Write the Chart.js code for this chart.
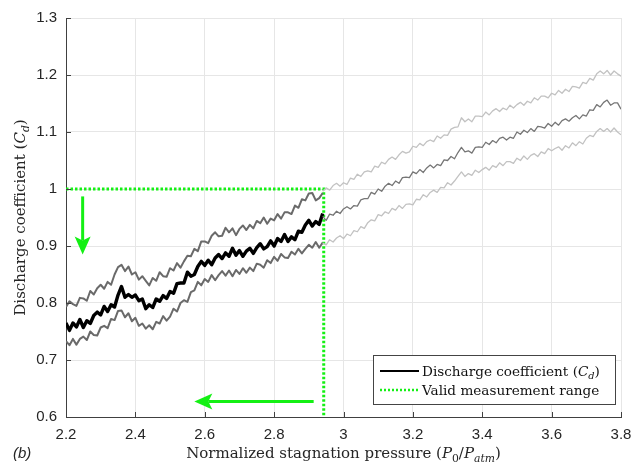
<!DOCTYPE html>
<html><head><meta charset="utf-8">
<script src="https://cdn.jsdelivr.net/npm/chart.js@4.4.0/dist/chart.umd.min.js"></script>
<style>html,body{margin:0;padding:0;background:#fff;overflow:hidden}canvas{display:block}</style>
</head><body>
<canvas id="c" width="642" height="462"></canvas>
<script>
// ---- data ----
const pressureDark = [2.20,2.21,2.22,2.23,2.24,2.25,2.26,2.27,2.28,2.29,
 2.30,2.31,2.32,2.33,2.34,2.35,2.36,2.37,2.38,2.39,
 2.40,2.41,2.42,2.43,2.44,2.45,2.46,2.47,2.48,2.49,
 2.50,2.51,2.52,2.53,2.54,2.55,2.56,2.57,2.58,2.59,
 2.60,2.61,2.62,2.63,2.64,2.65,2.66,2.67,2.68,2.69,
 2.70,2.71,2.72,2.73,2.74,2.75,2.76,2.77,2.78,2.79,
 2.80,2.81,2.82,2.83,2.84,2.85,2.86,2.87,2.88,2.89,
 2.90,2.91,2.92,2.93,2.94];
const cdMeanDark = [.765,.752,.765,.758,.771,.757,.769,.764,.778,.784,
 .779,.794,.785,.797,.793,.814,.829,.810,.815,.810,
 .814,.804,.807,.790,.797,.792,.807,.803,.813,.808,
 .820,.817,.834,.835,.835,.854,.847,.850,.864,.873,
 .866,.875,.867,.879,.885,.878,.888,.882,.896,.884,
 .892,.882,.891,.896,.887,.897,.904,.895,.899,.909,
 .900,.913,.908,.920,.908,.916,.911,.926,.924,.937,
 .945,.935,.943,.938,.957];
const cdUpperDark = [.793,.803,.798,.795,.809,.808,.804,.821,.815,.826,
 .832,.825,.837,.832,.850,.863,.867,.856,.864,.850,
 .854,.841,.847,.839,.831,.844,.839,.854,.847,.846,
 .861,.857,.870,.862,.873,.883,.882,.895,.891,.908,
 .908,.905,.918,.924,.917,.918,.932,.924,.931,.919,
 .930,.936,.928,.937,.931,.944,.940,.950,.939,.948,
 .945,.956,.948,.959,.959,.956,.971,.967,.982,.980,
 .992,.993,.980,.984,.993];
const cdLowerDark = [.733,.726,.737,.727,.737,.741,.735,.750,.744,.743,
 .757,.760,.756,.772,.770,.786,.787,.775,.782,.768,
 .774,.760,.764,.755,.761,.754,.767,.764,.777,.769,
 .776,.790,.785,.800,.805,.802,.819,.822,.837,.831,
 .842,.837,.849,.840,.849,.856,.848,.857,.847,.858,
 .851,.861,.853,.862,.856,.869,.867,.862,.875,.870,
 .881,.874,.886,.880,.879,.890,.885,.895,.887,.895,
 .902,.897,.907,.897,.906];

const pressureLight = [2.94,2.95,2.96,2.97,2.98,2.99,3.00,3.01,3.02,3.03,
 3.04,3.05,3.06,3.07,3.08,3.09,3.10,3.11,3.12,3.13,
 3.14,3.15,3.16,3.17,3.18,3.19,3.20,3.21,3.22,3.23,
 3.24,3.25,3.26,3.27,3.28,3.29,3.30,3.31,3.32,3.33,
 3.34,3.35,3.36,3.37,3.38,3.39,3.40,3.41,3.42,3.43,
 3.44,3.45,3.46,3.47,3.48,3.49,3.50,3.51,3.52,3.53,
 3.54,3.55,3.56,3.57,3.58,3.59,3.60,3.61,3.62,3.63,
 3.64,3.65,3.66,3.67,3.68,3.69,3.70,3.71,3.72,3.73,
 3.74,3.75,3.76,3.77,3.78,3.79,3.80];
const cdMeanLight = [.952,.945,.956,.954,.961,.957,.965,.969,.965,.971,
 .970,.981,.983,.983,.994,.991,1.000,.996,1.005,1.010,
 1.006,1.014,1.010,1.020,1.021,1.020,1.030,1.027,1.034,1.029,
 1.037,1.042,1.037,1.043,1.041,1.051,1.050,1.057,1.053,1.064,
 1.073,1.065,1.067,1.063,1.073,1.074,1.073,1.082,1.078,1.085,
 1.081,1.089,1.091,1.086,1.091,1.089,1.100,1.096,1.103,1.099,
 1.106,1.101,1.110,1.109,1.107,1.115,1.110,1.117,1.112,1.120,
 1.123,1.119,1.125,1.129,1.123,1.130,1.128,1.139,1.138,1.148,
 1.144,1.152,1.156,1.147,1.151,1.151,1.140];
const cdUpperLight = [.996,1.002,.998,1.006,1.010,1.005,1.011,1.008,1.019,1.017,
 1.026,1.022,1.030,1.032,1.030,1.040,1.038,1.047,1.044,1.052,
 1.056,1.052,1.060,1.066,1.063,1.065,1.075,1.073,1.080,1.076,
 1.083,1.086,1.083,1.093,1.089,1.095,1.094,1.105,1.108,1.109,
 1.125,1.118,1.123,1.118,1.128,1.128,1.127,1.135,1.130,1.137,
 1.141,1.136,1.142,1.139,1.147,1.142,1.148,1.152,1.147,1.154,
 1.151,1.160,1.156,1.163,1.163,1.160,1.168,1.165,1.173,1.168,
 1.175,1.171,1.180,1.179,1.177,1.187,1.185,1.194,1.191,1.202,
 1.207,1.202,1.208,1.200,1.207,1.202,1.198];
const cdLowerLight = [.905,.902,.911,.907,.914,.918,.913,.921,.918,.927,
 .925,.934,.931,.941,.946,.944,.955,.953,.960,.957,
 .966,.963,.971,.966,.973,.974,.972,.982,.981,.990,
 .986,.994,.998,.994,1.003,1.002,1.011,1.007,1.014,1.022,
 1.030,1.022,1.027,1.024,1.033,1.029,1.034,1.038,1.033,1.041,
 1.038,1.046,1.041,1.048,1.048,1.045,1.054,1.050,1.058,1.052,
 1.059,1.062,1.057,1.065,1.062,1.071,1.067,1.071,1.074,1.068,
 1.076,1.072,1.081,1.076,1.083,1.079,1.089,1.094,1.092,1.101,
 1.106,1.101,1.106,1.100,1.107,1.100,1.095];

const validRangeX = [2.2, 2.943, 2.943];
const validRangeY = [1.0, 1.0, 0.6];
const arrowDown = {x:[2.248,2.248], y:[0.987,0.885]};
const arrowLeft = {x:[2.914,2.570], y:[0.627,0.627]};
const xTickValues = [2.2,2.4,2.6,2.8,3.0,3.2,3.4,3.6,3.8];
const yTickValues = [0.6,0.7,0.8,0.9,1.0,1.1,1.2,1.3];

// ---- helpers ----
const pts = (xs, ys) => xs.map((x, i) => ({x, y: ys[i]}));
const GREEN = '#14f014';
const SERIF = '"DejaVu Serif", serif';

function drawRich(ctx, parts, x, y, size, align) {
  const fontFor = s => {
    const it = s.includes('i') ? 'italic ' : '';
    const sz = s.includes('s') ? size * 0.72 : size;
    return it + sz + 'px ' + SERIF;
  };
  let w = 0;
  parts.forEach(p => { ctx.font = fontFor(p[1]); w += ctx.measureText(p[0]).width; });
  let cx = align === 'center' ? x - w / 2 : x;
  ctx.textAlign = 'left';
  ctx.textBaseline = 'alphabetic';
  parts.forEach(p => {
    ctx.font = fontFor(p[1]);
    const dy = p[1].includes('s') ? size * 0.25 : 0;
    ctx.fillText(p[0], cx, y + dy);
    cx += ctx.measureText(p[0]).width;
  });
}

const decor = {
  id: 'decor',
  afterDraw(chart) {
    const {ctx, chartArea: a, scales: {x, y}} = chart;
    ctx.save();
    // inward tick marks
    ctx.strokeStyle = '#404040'; ctx.lineWidth = 1;
    xTickValues.forEach(v => { const px = Math.round(x.getPixelForValue(v)) + 0.5; ctx.beginPath(); ctx.moveTo(px, a.bottom); ctx.lineTo(px, a.bottom - 5); ctx.stroke(); });
    yTickValues.forEach(v => { const py = Math.round(y.getPixelForValue(v)) + 0.5; ctx.beginPath(); ctx.moveTo(a.left, py); ctx.lineTo(a.left + 5, py); ctx.stroke(); });

    // arrows
    ctx.fillStyle = GREEN; ctx.strokeStyle = GREEN; ctx.lineWidth = 3;
    const dx = x.getPixelForValue(arrowDown.x[0]);
    const dy0 = y.getPixelForValue(arrowDown.y[0]), dy1 = y.getPixelForValue(arrowDown.y[1]);
    ctx.beginPath(); ctx.moveTo(dx, dy0); ctx.lineTo(dx, dy1 - 14); ctx.stroke();
    ctx.beginPath(); ctx.moveTo(dx, dy1); ctx.lineTo(dx - 8, dy1 - 18); ctx.lineTo(dx, dy1 - 14); ctx.lineTo(dx + 8, dy1 - 18); ctx.closePath(); ctx.fill();
    const ly = y.getPixelForValue(arrowLeft.y[0]);
    const lx0 = x.getPixelForValue(arrowLeft.x[0]), lx1 = x.getPixelForValue(arrowLeft.x[1]);
    ctx.beginPath(); ctx.moveTo(lx0, ly); ctx.lineTo(lx1 + 14, ly); ctx.stroke();
    ctx.beginPath(); ctx.moveTo(lx1, ly); ctx.lineTo(lx1 + 18, ly - 8); ctx.lineTo(lx1 + 14, ly); ctx.lineTo(lx1 + 18, ly + 8); ctx.closePath(); ctx.fill();

    // legend box
    const bx = 373, by = 355, bw = 242, bh = 49;
    ctx.fillStyle = '#fff'; ctx.fillRect(bx, by, bw, bh);
    ctx.strokeStyle = '#444'; ctx.lineWidth = 1; ctx.strokeRect(bx + 0.5, by + 0.5, bw, bh);
    ctx.strokeStyle = '#000'; ctx.lineWidth = 2;
    ctx.beginPath(); ctx.moveTo(bx + 7, by + 16); ctx.lineTo(bx + 46, by + 16); ctx.stroke();
    ctx.strokeStyle = GREEN; ctx.lineWidth = 2.5; ctx.setLineDash([2, 2]);
    ctx.beginPath(); ctx.moveTo(bx + 7, by + 35); ctx.lineTo(bx + 46, by + 35); ctx.stroke();
    ctx.setLineDash([]);
    ctx.fillStyle = '#111';
    drawRich(ctx, [['Discharge coefficient (', ''], ['C', 'i'], ['d', 'is'], [')', '']], bx + 49, by + 21, 13.6, 'left');
    drawRich(ctx, [['Valid measurement range', '']], bx + 49, by + 40, 13.6, 'left');

    // axis titles
    ctx.fillStyle = '#262626';
    drawRich(ctx, [['Normalized stagnation pressure (', ''], ['P', 'i'], ['0', 's'], ['/', ''], ['P', 'i'], ['atm', 'is'], [')', '']], (a.left + a.right) / 2, 458, 15, 'center');
    ctx.save();
    ctx.translate(25, (a.top + a.bottom) / 2);
    ctx.rotate(-Math.PI / 2);
    drawRich(ctx, [['Discharge coefficient (', ''], ['C', 'i'], ['d', 'is'], [')', '']], 0, 0, 15, 'center');
    ctx.restore();
    // panel label
    ctx.font = 'italic 15px "Liberation Sans", Arial, sans-serif';
    ctx.textAlign = 'left'; ctx.textBaseline = 'alphabetic';
    ctx.fillText('(b)', 13, 458);
    ctx.restore();
  }
};

const ds = (label, xs, ys, color, width) => ({
  label, data: pts(xs, ys), borderColor: color, borderWidth: width,
  pointRadius: 0, tension: 0, fill: false, borderJoinStyle: 'round'
});

new Chart(document.getElementById('c'), {
  type: 'line',
  data: {
    datasets: [
      ds('Upper (extrapolated)', pressureLight, cdUpperLight, '#c2c2c2', 1.3),
      ds('Lower (extrapolated)', pressureLight, cdLowerLight, '#c2c2c2', 1.3),
      ds('Cd (extrapolated)', pressureLight, cdMeanLight, '#767676', 1.3),
      ds('Upper bound', pressureDark, cdUpperDark, '#6a6a6a', 2),
      ds('Lower bound', pressureDark, cdLowerDark, '#6a6a6a', 2),
      ds('Discharge coefficient (Cd)', pressureDark, cdMeanDark, '#000000', 3.4),
      Object.assign(ds('Valid measurement range', validRangeX, validRangeY, GREEN, 3), {borderDash: [2.5, 2], borderCapStyle: 'butt', borderJoinStyle: 'miter'})
    ]
  },
  options: {
    responsive: false, animation: false, events: [],
    layout: {padding: {left: 0, right: 21, top: 16, bottom: 0}},
    plugins: {legend: {display: false}, tooltip: {enabled: false}},
    scales: {
      x: {
        type: 'linear', min: 2.2, max: 3.8,
        afterFit: s => { s.height = 45; },
        afterBuildTicks: s => { s.ticks = xTickValues.map(v => ({value: v})); },
        ticks: {padding: 9, color: '#262626', font: {family: '"Liberation Sans", Arial, sans-serif', size: 15},
          callback: v => String(Math.round(v * 10) / 10)},
        grid: {color: '#e6e6e6', drawTicks: false},
        border: {color: '#404040', width: 1}
      },
      y: {
        type: 'linear', min: 0.6, max: 1.3,
        afterFit: s => { s.width = 66; },
        afterBuildTicks: s => { s.ticks = yTickValues.map(v => ({value: v})); },
        ticks: {padding: 9, color: '#262626', font: {family: '"Liberation Sans", Arial, sans-serif', size: 15},
          callback: v => String(Math.round(v * 10) / 10)},
        grid: {color: '#e6e6e6', drawTicks: false},
        border: {color: '#404040', width: 1}
      }
    }
  },
  plugins: [decor]
});
</script>
</body></html>
